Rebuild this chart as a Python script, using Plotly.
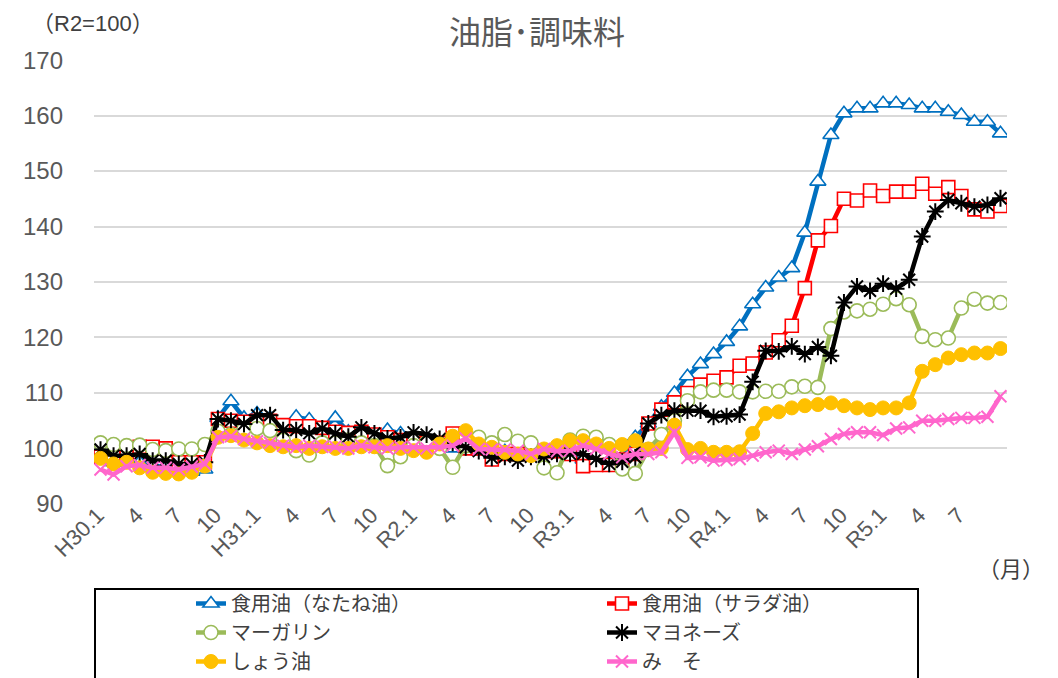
import plotly.graph_objects as go

# ---- data (index 0 = H30.1 ... index 69 = R5.10) ----
months = list(range(70))
tick_pos = list(range(0, 69, 3))
tick_text = ["H30.1", "4", "7", "10", "H31.1", "4", "7", "10", "R2.1", "4", "7", "10",
             "R3.1", "4", "7", "10", "R4.1", "4", "7", "10", "R5.1", "4", "7"]

rapeseed = [98.0, 97.5, 97.5, 97.5, 97.0, 96.5, 96.0, 95.8, 96.2,
            105.5, 108.5, 105.5, 106.3, 105.5, 104.0, 105.7, 105.2, 103.5, 105.5, 103.0, 103.0, 102.5, 103.3, 102.7,
            101.0, 101.0, 100.5, 100.0, 100.0, 99.5, 99.5, 99.5, 99.5, 99.5, 99.0, 99.0, 98.5, 98.0, 97.0, 97.5,
            98.5, 102.0, 104.5, 107.5, 110.0, 113.0, 115.2, 117.0, 119.2, 122.0, 126.0, 129.0, 130.8, 132.5,
            138.9, 148.1, 156.5, 160.4, 161.3, 161.3, 162.2, 162.2, 161.9, 161.3, 161.3, 160.7, 160.1, 158.9,
            158.9, 156.8]

salad_oil = [98.5, 98.5, 98.5, 100.3, 100.3, 100.0, 97.5, 97.5, 97.5,
             105.3, 105.0, 104.8, 105.0, 105.0, 104.2, 104.0, 104.0, 103.7, 103.0, 102.8, 103.0, 102.5, 102.0, 101.5,
             101.5, 101.0, 101.0, 102.7, 100.0, 100.0, 98.0, 99.0, 99.0, 99.5, 99.5, 99.5, 99.0, 96.8, 97.0, 97.0,
             98.0, 99.0, 104.5, 107.0, 108.3, 110.0, 111.5, 112.2, 112.8, 114.9, 115.3, 117.3, 119.5, 122.1,
             128.9, 137.5, 140.1, 145.0, 144.7, 146.5, 145.5, 146.3, 146.3, 147.7, 145.9, 147.1, 145.5, 143.1,
             142.7, 143.7]

margarine = [101.0, 100.7, 100.5, 100.6, 99.8, 99.6, 99.9, 99.9, 100.7,
             103.1, 102.5, 103.5, 103.6, 103.2, 101.5, 99.6, 98.8, 101.0, 101.0, 101.5, 101.0, 100.5, 96.9, 98.5,
             100.5, 101.0, 100.0, 96.6, 100.5, 102.0, 101.0, 102.5, 101.3, 101.0, 96.5, 95.6, 101.5, 102.2, 102.0,
             100.7, 96.3, 95.5, 99.8, 102.5, 105.0, 108.6, 110.2, 110.5, 110.5, 110.2, 110.2, 110.3, 110.3, 111.1,
             111.2, 111.0, 121.6, 124.6, 124.8, 125.1, 126.0, 127.0, 125.9, 120.2, 119.6, 119.9, 125.3, 126.9,
             126.2, 126.3]

mayonnaise = [99.8, 98.7, 98.7, 99.0, 97.8, 97.8, 97.2, 97.2, 97.5,
              105.3, 105.0, 104.4, 106.0, 106.0, 103.3, 103.3, 102.7, 103.6, 102.7, 102.1, 103.8, 102.7, 101.8, 102.0,
              102.9, 102.5, 101.7, 101.0, 100.2, 99.5, 98.3, 98.5, 97.8, 98.5, 98.5, 99.0, 99.0, 99.0, 98.1, 97.2,
              97.6, 98.4, 104.5, 106.0, 106.8, 106.8, 106.8, 105.7, 105.8, 106.1, 112.0, 117.6, 117.5, 118.4,
              117.0, 118.3, 116.7, 126.3, 129.2, 128.4, 129.7, 128.8, 130.4, 138.2, 142.7, 144.8, 144.2, 143.6,
              143.9, 145.1]

soy_sauce = [98.2, 97.2, 97.5, 96.5, 95.7, 95.5, 95.4, 95.7, 96.8,
             102.0, 102.3, 101.5, 101.0, 100.5, 100.3, 100.5, 100.0, 100.3, 100.0, 100.0, 100.3, 100.3, 100.5, 100.0,
             99.6, 99.3, 100.8, 102.2, 103.2, 100.8, 100.2, 99.3, 99.0, 98.7, 99.9, 100.5, 101.4, 101.4, 100.8,
             100.0, 100.7, 101.4, 99.9, 100.0, 104.2, 99.8, 100.0, 99.3, 99.3, 99.4, 102.7, 106.3, 106.6, 107.3,
             107.7, 107.9, 108.2, 107.7, 107.3, 107.0, 107.3, 107.3, 108.2, 113.9, 115.1, 116.3, 116.9, 117.2,
             117.2, 118.0]

miso = [96.2, 95.3, 96.8, 97.0, 96.5, 96.5, 96.2, 96.7, 97.2,
        102.0, 102.2, 101.7, 101.3, 101.0, 100.5, 100.2, 100.5, 100.3, 100.3, 100.0, 100.5, 100.2, 100.0, 100.2,
        100.2, 100.0, 100.2, 100.5, 101.8, 99.9, 99.8, 99.8, 99.6, 99.0, 99.9, 99.5, 99.6, 100.5, 99.9,
        99.0, 98.4, 99.0, 99.0, 99.3, 102.9, 98.3, 98.4, 97.8, 97.9, 98.1, 98.7, 99.3, 99.6, 99.0,
        99.8, 100.4, 101.7, 102.6, 102.9, 102.9, 102.4, 103.6, 103.8, 105.0, 105.0, 105.3, 105.5, 105.5,
        105.7, 109.4]

names = ["食用油（なたね油）", "食用油（サラダ油）", "マーガリン", "マヨネーズ", "しょう油", "み　そ"]

# ---- geometry (page shows figure offset by 8px body margin) ----
OFF = 8
W, H = 1058, 678
L, T, PW, PH = 94 - OFF, 60 - OFF, 913, 444
R = W - L - PW
B = H - T - PH


def px_x(page_x):
    return (page_x - OFF - L) / PW


def px_y(page_y):
    return (T + PH - (page_y - OFF)) / PH


FONT = "Liberation Sans, Arial, Noto Sans CJK JP, sans-serif"
GRAY = "#595959"

series = [
    (rapeseed, "#0070C0", dict(symbol="triangle-up", size=14, color="white",
                                line=dict(color="#0070C0", width=1.6))),
    (salad_oil, "#FF0000", dict(symbol="square", size=13, color="white",
                                 line=dict(color="#FF0000", width=1.6))),
    (margarine, "#9BBB59", dict(symbol="circle", size=14, color="white",
                                 line=dict(color="#9BBB59", width=1.6))),
    (mayonnaise, "#000000", dict(symbol="asterisk-open", size=14,
                                  line=dict(color="#000000", width=2))),
    (soy_sauce, "#FFC000", dict(symbol="circle", size=14, color="#FFC000",
                                 line=dict(color="#FFC000", width=1))),
    (miso, "#FF66CC", dict(symbol="x-thin-open", size=12,
                            line=dict(color="#FF66CC", width=2))),
]

fig = go.Figure()
for (vals, color, mk), name in zip(series, names):
    fig.add_trace(go.Scatter(x=months, y=vals, mode="lines+markers", name=name,
                             line=dict(color=color, width=4.5), marker=mk))

fig.update_layout(
    width=W, height=H,
    margin=dict(l=L, r=R, t=T, b=B, autoexpand=False),
    paper_bgcolor="white", plot_bgcolor="white",
    font=dict(family=FONT, color=GRAY),
    title=dict(text="油脂･調味料", x=(537 - OFF) / W, xanchor="center",
               y=1 - (33 - OFF) / H, yanchor="middle",
               font=dict(family="Noto Sans CJK JP", size=32, color=GRAY)),
    xaxis=dict(range=[-0.5, 69.5], tickvals=tick_pos, ticktext=tick_text, tickangle=-45,
               tickfont=dict(size=22, color=GRAY), showgrid=False, zeroline=False,
               showline=False, ticks="", automargin=False,
               ticklabelshift=-3, ticklabelstandoff=-7),
    yaxis=dict(range=[89.98, 170.02], tickvals=[90, 100, 110, 120, 130, 140, 150, 160, 170],
               gridcolor="#D9D9D9", gridwidth=1.5,
               tickfont=dict(size=24, color=GRAY), zeroline=False, showline=False,
               ticklabelstandoff=30, automargin=False),
    showlegend=True,
    legend=dict(orientation="h", x=px_x(183 + OFF), y=px_y(576 + OFF),
                xanchor="left", yanchor="top",
                entrywidth=366, entrywidthmode="pixels",
                font=dict(family="Noto Sans CJK JP", size=20, color="#404040"),
                bgcolor="rgba(0,0,0,0)", borderwidth=0),
    shapes=[dict(type="rect", xref="paper", yref="paper",
                 x0=px_x(95), x1=px_x(918), y0=px_y(730), y1=px_y(589),
                 line=dict(color="black", width=2), fillcolor="rgba(0,0,0,0)")],
    annotations=[
        dict(text="（R2=100）", xref="paper", yref="paper", x=px_x(30), y=px_y(24),
             xanchor="left", yanchor="middle", showarrow=False,
             font=dict(family=FONT, size=22, color="#404040")),
        dict(text="（月）", xref="paper", yref="paper", x=px_x(1011), y=px_y(567),
             xanchor="center", yanchor="middle", showarrow=False,
             font=dict(family="Noto Sans CJK JP", size=22, color="#404040")),
    ],
)

fig.write_html("out.html")
